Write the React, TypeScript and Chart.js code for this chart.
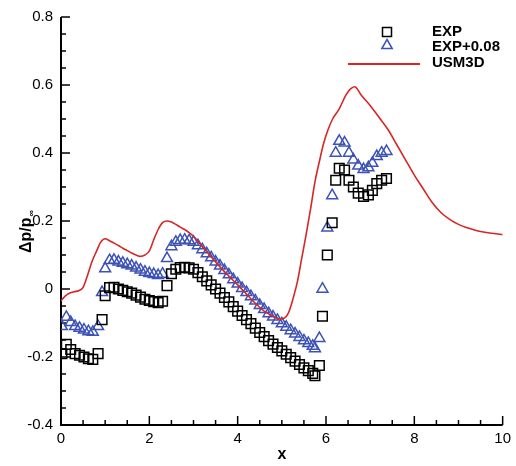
import React, { useEffect, useRef } from 'react';
import { Chart, registerables } from 'chart.js';

Chart.register(...registerables);

// EXP measurements
const expX = [0.02, 0.12, 0.22, 0.32, 0.42, 0.52, 0.62, 0.72, 0.84, 0.93,
  1.0, 1.1, 1.2, 1.3, 1.4, 1.5, 1.6, 1.7, 1.8, 1.9, 2.0, 2.1, 2.2, 2.3,
  2.4, 2.5, 2.6, 2.7, 2.8, 2.9, 3.0, 3.1, 3.2, 3.3, 3.4, 3.5, 3.6, 3.7, 3.8, 3.9,
  4.0, 4.1, 4.2, 4.3, 4.4, 4.5, 4.6, 4.7, 4.8, 4.9, 5.0, 5.1, 5.2, 5.3, 5.4, 5.5, 5.6, 5.7, 5.75,
  5.85, 5.92, 6.03, 6.14, 6.22, 6.3, 6.42, 6.52, 6.62, 6.73, 6.85, 6.96, 7.05, 7.15, 7.26, 7.37];
const expY = [-0.19, -0.163, -0.178, -0.19, -0.195, -0.2, -0.205, -0.207, -0.19, -0.09,
  -0.02, 0.004, 0.005, 0.0, -0.004, -0.008, -0.012, -0.018, -0.024, -0.03, -0.034, -0.037, -0.04, -0.036,
  0.01, 0.045, 0.058, 0.063, 0.064, 0.062, 0.058, 0.048, 0.036, 0.024, 0.012, 0.0, -0.012, -0.025, -0.038, -0.052,
  -0.065, -0.078, -0.09, -0.102, -0.115, -0.128, -0.14, -0.152, -0.162, -0.172, -0.182, -0.192, -0.202, -0.212, -0.222, -0.232, -0.24, -0.248, -0.255,
  -0.225, -0.08, 0.1, 0.195, 0.32, 0.355, 0.35, 0.32, 0.3, 0.282, 0.272, 0.277, 0.29, 0.31, 0.32, 0.325];

// EXP + 0.08 (same stations)
const expShiftY = [-0.11, -0.083, -0.098, -0.11, -0.115, -0.12, -0.125, -0.127, -0.11, -0.01,
  0.06, 0.084, 0.085, 0.08, 0.076, 0.072, 0.068, 0.062, 0.056, 0.05, 0.046, 0.043, 0.04, 0.044,
  0.09, 0.125, 0.138, 0.143, 0.144, 0.142, 0.138, 0.128, 0.116, 0.104, 0.092, 0.08, 0.068, 0.055, 0.042, 0.028,
  0.015, 0.002, -0.01, -0.022, -0.035, -0.048, -0.06, -0.072, -0.082, -0.092, -0.102, -0.112, -0.122, -0.132, -0.142, -0.152, -0.16, -0.168, -0.175,
  -0.145, 0.0, 0.18, 0.275, 0.4, 0.435, 0.43, 0.4, 0.38, 0.362, 0.352, 0.357, 0.37, 0.39, 0.4, 0.405];

// USM3D computation
const usmX = [0, 0.1, 0.2, 0.3, 0.4, 0.5, 0.6, 0.7, 0.8, 0.9, 1.0, 1.1, 1.2, 1.3, 1.4, 1.5, 1.6, 1.7, 1.8, 1.9,
  2.0, 2.1, 2.2, 2.3, 2.4, 2.5, 2.6, 2.7, 2.8, 2.9, 3.0, 3.2, 3.4, 3.6, 3.8, 4.0, 4.2, 4.4, 4.6, 4.8,
  4.95, 5.05, 5.15, 5.25, 5.35, 5.45, 5.55, 5.65, 5.75, 5.85, 5.95, 6.05, 6.15, 6.3, 6.45, 6.55, 6.65,
  6.8, 7.0, 7.2, 7.4, 7.6, 7.8, 8.0, 8.2, 8.4, 8.6, 8.8, 9.0, 9.2, 9.4, 9.6, 9.8, 10.0];
const usmY = [-0.035, -0.02, -0.012, -0.008, -0.005, 0.005, 0.04, 0.08, 0.11, 0.138, 0.148, 0.142, 0.135, 0.128, 0.12, 0.113, 0.106, 0.1, 0.096, 0.1,
  0.112, 0.145, 0.175, 0.195, 0.2, 0.197, 0.19, 0.182, 0.175, 0.166, 0.155, 0.125, 0.095, 0.065, 0.038, 0.012, -0.015, -0.042, -0.065, -0.08,
  -0.088, -0.086, -0.07, -0.03, 0.02, 0.09, 0.16, 0.235, 0.315, 0.375, 0.43, 0.47, 0.5, 0.53, 0.57, 0.588, 0.595,
  0.57, 0.54, 0.505, 0.47, 0.425, 0.38, 0.335, 0.295, 0.255, 0.225, 0.205, 0.19, 0.18, 0.172, 0.167, 0.163, 0.16];

const xTickLabels = ['0', '2', '4', '6', '8', '10'];
const yTickLabels = ['-0.4', '-0.2', '0', '0.2', '0.4', '0.6', '0.8'];
const legendLabels = ['EXP', 'EXP+0.08', 'USM3D'];

const BLUE = 'rgb(60,82,182)';
const RED = 'rgb(214,38,38)';
const FONT = '"Liberation Sans", Arial, Helvetica, sans-serif';

export default function App() {
  const ref = useRef<HTMLCanvasElement>(null);

  useEffect(() => {
    const canvas = ref.current;
    if (!canvas) return;

    const decor = {
      id: 'decor',
      beforeDatasetsDraw(chart: any) {
        const { ctx, chartArea, scales } = chart;
        const xs = scales.x;
        const ys = scales.y;
        ctx.save();
        ctx.strokeStyle = '#000';
        ctx.lineWidth = 2;
        ctx.beginPath();
        ctx.moveTo(chartArea.left, chartArea.top);
        ctx.lineTo(chartArea.left, chartArea.bottom);
        ctx.lineTo(chartArea.right, chartArea.bottom);
        ctx.stroke();
        ctx.lineWidth = 1.5;
        for (let i = 0; i <= 20; i++) {
          const v = i * 0.5;
          const px = xs.getPixelForValue(v);
          const len = i % 4 === 0 ? 9 : 5;
          ctx.beginPath();
          ctx.moveTo(px, chartArea.bottom);
          ctx.lineTo(px, chartArea.bottom - len);
          ctx.stroke();
        }
        for (let i = 0; i <= 24; i++) {
          const v = -0.4 + i * 0.05;
          const py = ys.getPixelForValue(v);
          const len = i % 4 === 0 ? 9 : 5;
          ctx.beginPath();
          ctx.moveTo(chartArea.left, py);
          ctx.lineTo(chartArea.left + len, py);
          ctx.stroke();
        }
        ctx.restore();
      },
      afterDatasetsDraw(chart: any) {
        const { ctx, chartArea } = chart;
        ctx.save();
        ctx.fillStyle = '#000';
        ctx.font = `bold 16px ${FONT}`;
        ctx.textAlign = 'center';
        ctx.textBaseline = 'middle';
        ctx.fillText('x', (chartArea.left + chartArea.right) / 2, 455);
        ctx.translate(27, 232);
        ctx.rotate(-Math.PI / 2);
        ctx.textAlign = 'left';
        ctx.textBaseline = 'middle';
        ctx.font = `bold 16px ${FONT}`;
        const main = 'Δp/p';
        const wMain = ctx.measureText(main).width;
        ctx.font = `bold 9px ${FONT}`;
        const wSub = ctx.measureText('∞').width;
        const start = -(wMain + wSub) / 2;
        ctx.font = `bold 16px ${FONT}`;
        ctx.fillText(main, start, 0);
        ctx.font = `bold 9px ${FONT}`;
        ctx.fillText('∞', start + wMain + 1, 5);
        ctx.restore();

        // legend
        ctx.save();
        const tx = 432;
        ctx.font = `bold 15px ${FONT}`;
        ctx.fillStyle = '#000';
        ctx.textAlign = 'left';
        ctx.textBaseline = 'middle';
        ctx.strokeStyle = '#000';
        ctx.lineWidth = 1.5;
        ctx.strokeRect(387 - 4.5, 32 - 4.5, 9, 9);
        ctx.fillText(legendLabels[0], tx, 32);
        ctx.strokeStyle = BLUE;
        ctx.beginPath();
        ctx.moveTo(387, 45 - 5.5);
        ctx.lineTo(387 + 5.2, 45 + 3.5);
        ctx.lineTo(387 - 5.2, 45 + 3.5);
        ctx.closePath();
        ctx.stroke();
        ctx.fillText(legendLabels[1], tx, 47);
        ctx.strokeStyle = RED;
        ctx.lineWidth = 1.8;
        ctx.beginPath();
        ctx.moveTo(348, 64);
        ctx.lineTo(420, 64);
        ctx.stroke();
        ctx.fillText(legendLabels[2], tx, 63);
        ctx.restore();
      },
    };

    const chart = new Chart(canvas, {
      type: 'scatter',
      data: {
        datasets: [
          {
            label: legendLabels[0],
            data: expX.map((x, i) => ({ x, y: expY[i] })),
            pointStyle: 'rect',
            pointRadius: 6.8,
            borderColor: '#000',
            backgroundColor: 'rgba(0,0,0,0)',
            borderWidth: 1.5,
            order: 1,
          },
          {
            label: legendLabels[1],
            data: expX.map((x, i) => ({ x, y: expShiftY[i] })),
            pointStyle: 'triangle',
            pointRadius: 6.3,
            borderColor: BLUE,
            backgroundColor: 'rgba(0,0,0,0)',
            borderWidth: 1.5,
            order: 2,
          },
          {
            label: legendLabels[2],
            data: usmX.map((x, i) => ({ x, y: usmY[i] })),
            showLine: true,
            pointRadius: 0,
            borderColor: RED,
            borderWidth: 1.6,
            cubicInterpolationMode: 'monotone',
            order: 0,
          } as any,
        ],
      },
      options: {
        responsive: false,
        animation: false,
        devicePixelRatio: 1,
        layout: { padding: { top: 15, right: 9, left: 0, bottom: 0 } },
        plugins: { legend: { display: false }, tooltip: { enabled: false } },
        scales: {
          x: {
            type: 'linear',
            min: 0,
            max: 10,
            grid: { display: false, drawTicks: false },
            border: { display: false },
            ticks: {
              stepSize: 2,
              padding: 5,
              maxRotation: 0,
              color: '#000',
              font: { family: FONT, size: 15 },
              callback: (_v: any, i: number) => xTickLabels[i],
            },
            afterFit: (s: any) => { s.height = 41; },
          },
          y: {
            type: 'linear',
            min: -0.4,
            max: 0.8,
            grid: { display: false, drawTicks: false },
            border: { display: false },
            ticks: {
              stepSize: 0.2,
              padding: 8,
              color: '#000',
              font: { family: FONT, size: 15 },
              callback: (_v: any, i: number) => yTickLabels[i],
            },
            afterFit: (s: any) => { s.width = 61; },
          },
        },
      },
      plugins: [decor],
    } as any);

    return () => chart.destroy();
  }, []);

  return (
    <div style={{ position: 'fixed', left: 0, top: 0, width: 516, height: 466, background: '#fff' }}>
      <canvas ref={ref} width={516} height={466} style={{ width: 516, height: 466 }} />
    </div>
  );
}
